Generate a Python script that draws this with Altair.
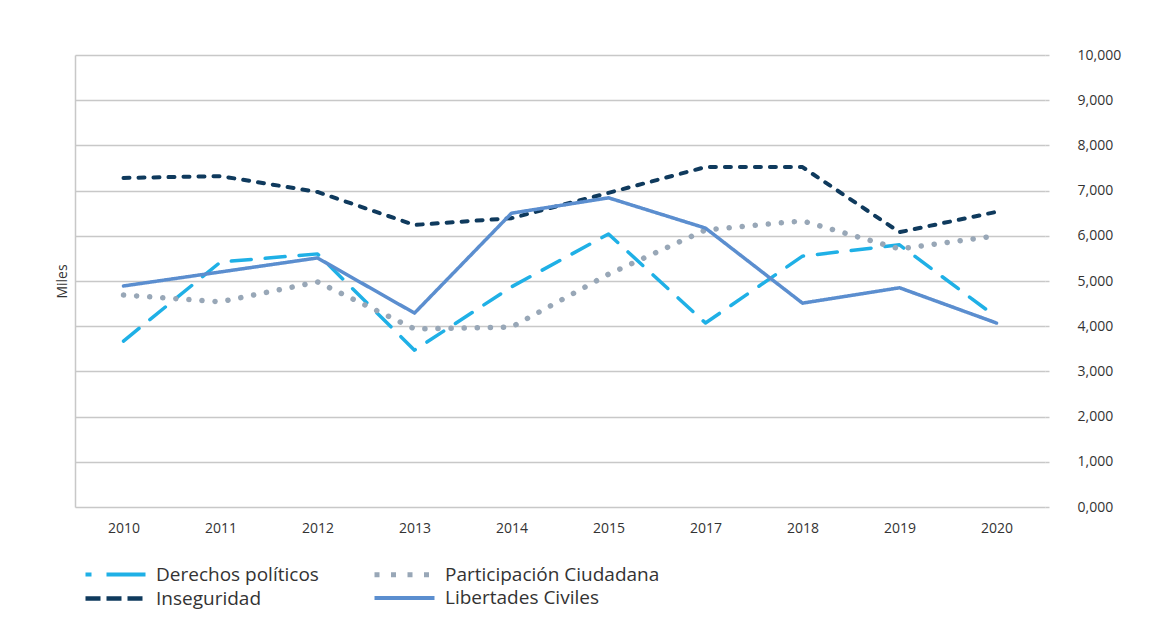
import altair as alt
import pandas as pd

years = ["2010", "2011", "2012", "2013", "2014", "2015", "2017", "2018", "2019", "2020"]
# legend order (read column by column)
series = ["Derechos políticos", "Inseguridad", "Participación Ciudadana", "Libertades Civiles"]

derechos = [3.67, 5.42, 5.60, 3.47, 4.87, 6.04, 4.07, 5.55, 5.80, 4.20]
inseguridad = [7.28, 7.32, 6.97, 6.24, 6.39, 6.95, 7.52, 7.52, 6.08, 6.53]
participacion = [4.69, 4.54, 4.98, 3.94, 3.98, 5.15, 6.13, 6.33, 5.71, 6.00]
libertades = [4.89, 5.20, 5.51, 4.29, 6.50, 6.84, 6.17, 4.51, 4.85, 4.07]

colors = ["#1fb0e6", "#0f3a5d", "#98a7b7", "#5b8ecf"]
# styles of the plotted lines (round caps)
line_dashes = [[20, 14], [6, 9], [0.1, 13], [1, 0]]
line_widths = [3.5, 4, 5.5, 3.5]
# styles of the legend swatches (butt caps)
legend_dashes = [[6, 15, 39, 20], [15, 6], [5, 11.5], [1, 0]]
legend_widths = [4, 4.5, 5, 4]
draw_order = ["Derechos políticos", "Participación Ciudadana", "Inseguridad", "Libertades Civiles"]

rows = []
for name, vals in zip(series, [derechos, inseguridad, participacion, libertades]):
    for y, v in zip(years, vals):
        rows.append({"year": y, "value": v, "serie": name})
df = pd.DataFrame(rows)

FONT = "Open Sans"
GRID = "#c8c8c8"
TXT = "#333333"

x_enc = alt.X("year:N", sort=years, title=None,
              axis=alt.Axis(labelAngle=0, ticks=False, domain=False, labelPadding=14,
                            labelFont=FONT, labelFontSize=14, labelColor=TXT))
y_scale = alt.Scale(domain=[0, 10])

# layer carrying the right axis and the legend (no marks drawn)
legend_layer = alt.Chart(df).transform_filter("false").mark_line().encode(
    x=x_enc,
    y=alt.Y("value:Q", scale=y_scale,
            axis=alt.Axis(orient="right", title=None, grid=True, gridColor=GRID, gridWidth=1.5,
                          domain=False, ticks=True, tickSize=4, tickColor=GRID, tickWidth=1.5,
                          labelPadding=28, values=list(range(0, 11)), labelOverlap=False,
                          labelExpr="replace(format(datum.value, ',.3f'), '.', ',')",
                          labelFont=FONT, labelFontSize=14, labelColor=TXT)),
    color=alt.Color("serie:N", sort=series, scale=alt.Scale(domain=series, range=colors), title=None,
                    legend=alt.Legend(orient="none", legendX=28, legendY=507, columns=2,
                                      symbolType="M-3,0H3", symbolSize=400, columnPadding=45,
                                      labelOffset=28, rowPadding=1, labelFont=FONT, labelLimit=400,
                                      labelFontSize=19, labelColor=TXT, values=series)),
    strokeDash=alt.StrokeDash("serie:N", sort=series,
                              scale=alt.Scale(type="ordinal", domain=series, range=legend_dashes),
                              title=None),
    strokeWidth=alt.StrokeWidth("serie:N", sort=series,
                                scale=alt.Scale(type="ordinal", domain=series, range=legend_widths),
                                title=None),
)

left_axis = alt.Chart(df).mark_line(opacity=0).encode(
    x=x_enc,
    y=alt.Y("value:Q", scale=y_scale,
            axis=alt.Axis(orient="left", title="Miles", labels=False, ticks=False, grid=False,
                          domain=True, domainColor=GRID, domainWidth=1.5, titlePadding=6,
                          titleFont=FONT, titleFontSize=14, titleFontWeight="normal",
                          titleColor=TXT)),
    detail="serie:N",
)

line_layers = []
for name in draw_order:
    i = series.index(name)
    line_layers.append(
        alt.Chart(df).transform_filter(alt.datum.serie == name).mark_line(
            color=colors[i], strokeDash=line_dashes[i], strokeWidth=line_widths[i],
            strokeCap="round", strokeJoin="round"
        ).encode(x=x_enc, y=alt.Y("value:Q", scale=y_scale, axis=None))
    )

chart = alt.layer(left_axis, legend_layer, *line_layers).resolve_axis(y="independent").properties(
    width=970, height=452,
    autosize=alt.AutoSizeParams(type="none"),
    padding={"left": 67, "top": 47, "right": 102, "bottom": 126},
    background="white",
).configure_view(stroke=None)

chart.save("out.html", embed_options={"renderer": "svg", "actions": False})
